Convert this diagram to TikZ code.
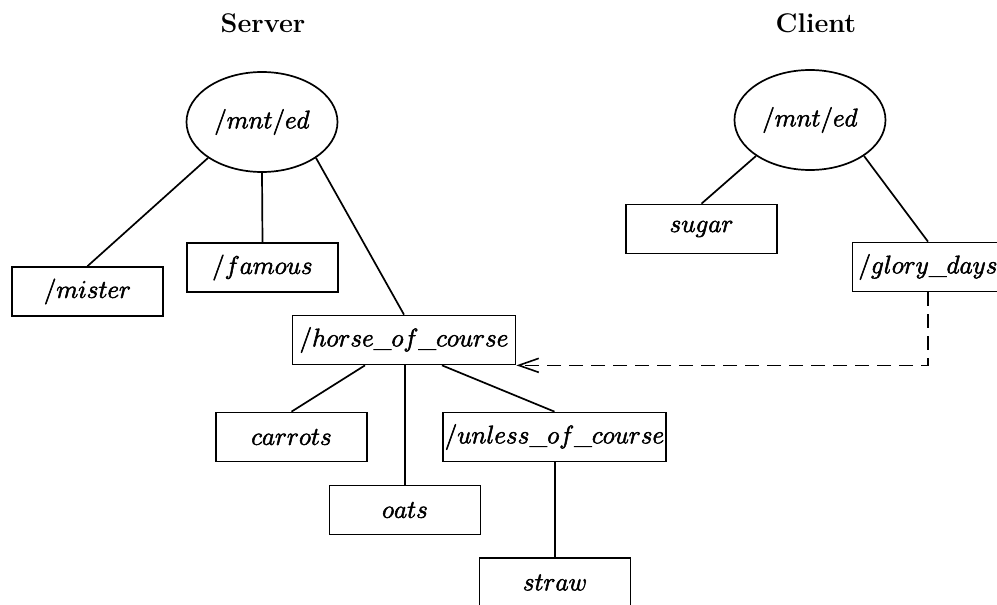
\RequirePackage{fix-cm}
\documentclass[tikz,border=0pt]{standalone}
\usetikzlibrary{arrows.meta,shapes.geometric}

% slightly heavier glyphs: fill and stroke the outlines
\newcommand{\heavytext}[1]{\special{pdf:literal direct 2 Tr 0.55 w}#1\special{pdf:literal direct 0 Tr}}

\tikzset{
  lbl/.style={font=\fontsize{25.5}{29}\selectfont},
  title/.style={font=\fontsize{27}{31}\selectfont\bfseries},
  dirbox/.style={lbl, draw, line width=1.7pt, inner sep=0pt,
                 minimum width=151pt, minimum height=49pt},
  widebox/.style={dirbox, minimum width=223pt},
  root/.style={lbl, draw, ellipse, line width=1.7pt, inner sep=0pt,
               minimum width=151pt, minimum height=100pt},
  link/.style={line width=1.7pt},
  mountlink/.style={line width=1.7pt, dash pattern=on 14pt off 8pt,
                    -{Straight Barb[length=20pt,width=14pt,line width=1.6pt]}}
}

\begin{document}
\begin{tikzpicture}[x=1pt, y=-1pt]
  \useasboundingbox (0,0) rectangle (997,605);
  \clip (0,0) rectangle (997,605);

  % column headings
  \node[title] (srvtitle) at (263,23) {Server};
  \node[title] (clttitle) at (816,23) {Client};

  % server tree
  \node[root]    (sroot)   at (262,122)   {\heavytext{$/mnt/ed$}};
  \node[dirbox]  (mister)  at (87.5,291.5) {\heavytext{$/mister$}};
  \node[dirbox]  (famous)  at (262.5,267.5) {\heavytext{$/famous$}};
  \node[widebox] (horse)   at (404,340)   {\heavytext{$/horse\_of\_course$}};
  \node[dirbox]  (carrots) at (291.5,437) {\heavytext{$carrots$}};
  \node[dirbox]  (oats)    at (405,510)   {\heavytext{$oats$}};
  \node[widebox] (unless)  at (554.5,437) {\heavytext{$/unless\_of\_course$}};
  \node[dirbox]  (straw)   at (555,582.5) {\heavytext{$straw$}};

  % client tree
  \node[root]    (croot)   at (810,120)   {\heavytext{$/mnt/ed$}};
  \node[dirbox]  (sugar)   at (701.5,229) {\heavytext{$sugar$}};
  \node[dirbox]  (glory)   at (928,267)   {\heavytext{$/glory\_days$}};

  % server edges
  \draw[link] (sroot.south west) -- (mister.north);
  \draw[link] (sroot.south)      -- (famous.north);
  \draw[link] (sroot.south east) -- (horse.north);
  \draw[link] ([xshift=-39pt]horse.south) -- (carrots.north);
  \draw[link] ([xshift=1pt]horse.south)   -- (oats.north);
  \draw[link] ([xshift=38pt]horse.south)  -- (unless.north);
  \draw[link] ([xshift=0.5pt]unless.south) -- (straw.north);

  % client edges
  \draw[link] (croot.south west) -- (sugar.north);
  \draw[link] (croot.south east) -- (glory.north);

  % mount of the client directory onto the server
  \draw[mountlink] (glory.south) |- (horse.south east);
\end{tikzpicture}
\end{document}
